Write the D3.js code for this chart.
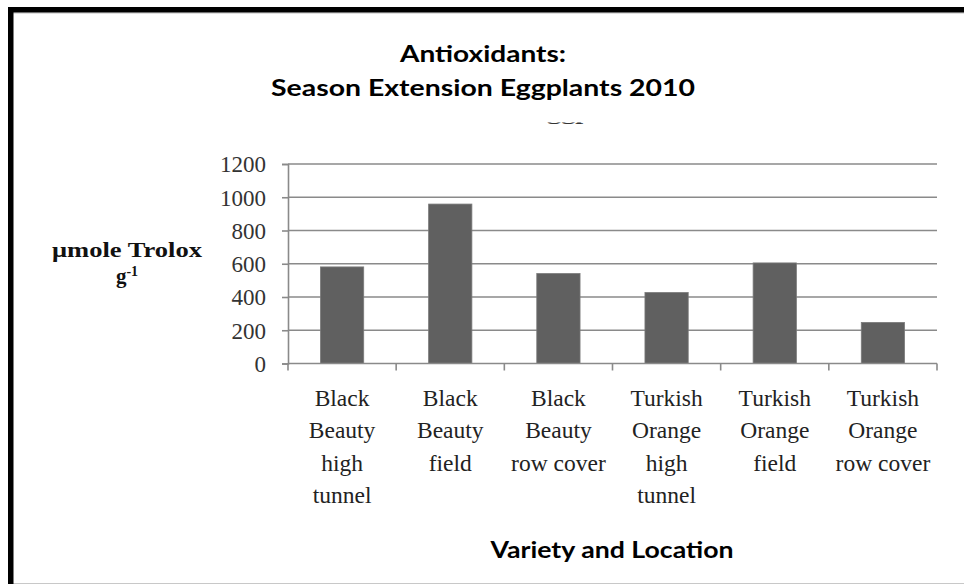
<!DOCTYPE html>
<html>
<head>
<meta charset="utf-8">
<script src="https://cdn.jsdelivr.net/npm/d3@7"></script>
<style>
  html, body { margin: 0; padding: 0; background: #fff; }
  svg { display: block; }
</style>
</head>
<body>
<svg id="chart" width="964" height="584"></svg>
<script>
// Antioxidant content by eggplant variety and growing location
const categories = [
  "Black Beauty high tunnel",
  "Black Beauty field",
  "Black Beauty row cover",
  "Turkish Orange high tunnel",
  "Turkish Orange field",
  "Turkish Orange row cover"
];
const categoryLines = [
  ["Black", "Beauty", "high", "tunnel"],
  ["Black", "Beauty", "field"],
  ["Black", "Beauty", "row cover"],
  ["Turkish", "Orange", "high", "tunnel"],
  ["Turkish", "Orange", "field"],
  ["Turkish", "Orange", "row cover"]
];
const trolox = [581, 959, 541, 427, 605, 247];
const yTicks = [0, 200, 400, 600, 800, 1000, 1200];

const titleLines = ["Antioxidants:", "Season Extension Eggplants 2010"];
const xTitle = "Variety and Location";
const yTitle = "\u03bcmole Trolox";

const svg = d3.select("#chart");
const W = 964, H = 584;

// plot area
const plotL = 288, plotR = 937, plotT = 164, plotB = 363.5;

const x = d3.scaleBand().domain(categories).range([plotL, plotR]).padding(0);
const y = d3.scaleLinear().domain([0, 1200]).range([plotB, plotT]);

const grid = "#8a8a8a";
const serif = "'Liberation Serif', 'Times New Roman', serif";
const sans = "'Lato', 'Open Sans', 'DejaVu Sans', sans-serif";

// frame
svg.append("rect").attr("x", 0).attr("y", 0).attr("width", W).attr("height", H).attr("fill", "#fff");
svg.append("line").attr("x1", 13).attr("x2", W).attr("y1", 583.5).attr("y2", 583.5)
  .attr("stroke", "#c8c8c8").attr("stroke-width", 1);
svg.append("line").attr("x1", 13).attr("x2", W).attr("y1", 13).attr("y2", 13)
  .attr("stroke", "#bdbdbd").attr("stroke-width", 1);
svg.append("rect").attr("x", 8).attr("y", 7).attr("width", W - 8).attr("height", 5.5).attr("fill", "#000");
svg.append("rect").attr("x", 8).attr("y", 7).attr("width", 5.5).attr("height", H - 7).attr("fill", "#000");

// horizontal gridlines
svg.append("g").selectAll("line").data(yTicks.filter(d => d > 0)).join("line")
  .attr("x1", plotL).attr("x2", plotR)
  .attr("y1", d => y(d)).attr("y2", d => y(d))
  .attr("stroke", grid).attr("stroke-width", 1.6);

// bars
const barW = x.bandwidth() * 0.4;
svg.append("g").selectAll("rect").data(trolox).join("rect")
  .attr("x", (d, i) => x(categories[i]) + (x.bandwidth() - barW) / 2)
  .attr("y", d => y(d))
  .attr("width", barW)
  .attr("height", d => y(0) - y(d))
  .attr("fill", "#606060")
  .attr("stroke", "#7a7a7a")
  .attr("stroke-width", 0.8);

// y axis
const yAxis = d3.axisLeft(y).tickValues(yTicks).tickSize(6).tickPadding(16).tickFormat(d3.format("d"));
const gy = svg.append("g").attr("transform", `translate(${plotL},0)`).call(yAxis);
gy.select(".domain").attr("stroke", grid).attr("stroke-width", 1.6);
gy.selectAll(".tick line").attr("stroke", grid).attr("stroke-width", 1.6);
gy.selectAll(".tick text")
  .attr("font-family", serif).attr("font-size", 23).attr("fill", "#333")
  .attr("dy", "0.34em");

// x axis: ticks at band boundaries
const gx = svg.append("g");
gx.append("line").attr("x1", plotL).attr("x2", plotR).attr("y1", plotB).attr("y2", plotB)
  .attr("stroke", grid).attr("stroke-width", 1.6);
const bounds = categories.map(c => x(c)).concat([x(categories[categories.length - 1]) + x.bandwidth()]);
gx.selectAll("line.tk").data(bounds).join("line").attr("class", "tk")
  .attr("x1", d => d).attr("x2", d => d).attr("y1", plotB).attr("y2", plotB + 7)
  .attr("stroke", grid).attr("stroke-width", 1.6);

// category labels
const lab = svg.append("g").selectAll("text").data(categoryLines).join("text")
  .attr("font-family", serif).attr("font-size", 23.5).attr("fill", "#222")
  .attr("text-anchor", "middle");
lab.each(function(lines, i) {
  const cx = x(categories[i]) + x.bandwidth() / 2;
  d3.select(this).selectAll("tspan").data(lines).join("tspan")
    .attr("x", cx).attr("y", (d, j) => 406 + j * 32.3).text(d => d);
});

// titles
svg.append("text").attr("x", 483).attr("y", 61.5).attr("text-anchor", "middle")
  .attr("font-family", sans).attr("font-weight", "bold").attr("font-size", 22)
  .attr("textLength", 166).attr("lengthAdjust", "spacingAndGlyphs")
  .attr("fill", "#000").text(titleLines[0]);
svg.append("text").attr("x", 483).attr("y", 96).attr("text-anchor", "middle")
  .attr("font-family", sans).attr("font-weight", "bold").attr("font-size", 22)
  .attr("textLength", 424).attr("lengthAdjust", "spacingAndGlyphs")
  .attr("fill", "#000").text(titleLines[1]);

// clipped remnant below the title
svg.append("clipPath").attr("id", "remnant")
  .append("rect").attr("x", 540).attr("y", 122.5).attr("width", 60).attr("height", 8);
svg.append("text").attr("x", 569).attr("y", 120).attr("text-anchor", "middle")
  .attr("clip-path", "url(#remnant)")
  .attr("font-family", serif).attr("font-weight", "bold").attr("font-size", 16)
  .attr("textLength", 44).attr("lengthAdjust", "spacingAndGlyphs")
  .attr("fill", "#333").text("ggp");

// y axis title
svg.append("text").attr("x", 127).attr("y", 257).attr("text-anchor", "middle")
  .attr("font-family", serif).attr("font-weight", "bold").attr("font-size", 21)
  .attr("textLength", 150).attr("lengthAdjust", "spacingAndGlyphs")
  .attr("fill", "#111").text(yTitle);
const g1 = svg.append("text").attr("x", 127).attr("y", 283).attr("text-anchor", "middle")
  .attr("font-family", serif).attr("font-weight", "bold").attr("font-size", 21).attr("fill", "#111");
g1.append("tspan").text("g");
g1.append("tspan").attr("font-size", 14).attr("dy", -7).text("-1");

// x axis title
svg.append("text").attr("x", 612).attr("y", 558).attr("text-anchor", "middle")
  .attr("font-family", sans).attr("font-weight", "bold").attr("font-size", 22)
  .attr("textLength", 243).attr("lengthAdjust", "spacingAndGlyphs")
  .attr("fill", "#000").text(xTitle);
</script>
</body>
</html>
